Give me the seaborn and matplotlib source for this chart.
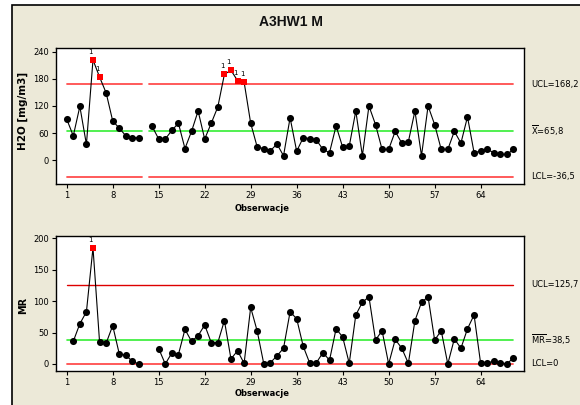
import numpy as np
import pandas as pd
import matplotlib
matplotlib.use("Agg")
import matplotlib.pyplot as plt
import seaborn as sns
from matplotlib.patches import Rectangle

# ---------------- data ----------------
obs = list(range(1, 70))
h2o = [91, 54, 119, 35, 222, 184, 149, 87, 71, 54, 50, 50, np.nan,
       75, 47, 47, 66, 82, 26, 64, 109,
       47, 82, 118, 190, 199, 176, 173, 82,
       29, 26, 21, 36, 10, 94, 20, 50, 48, 45, 24, 17, 76,
       29, 31, 109, 10, 120, 79, 24, 24, 64, 38, 41, 109, 10, 120, 79,
       24, 24, 64, 38, 96, 17, 20, 24, 17, 13, 13, 24]
mr = [np.nan, 36, 64, 83, 185, 35, 33, 61, 16, 14, 4, 0, np.nan, np.nan,
      24.5, 0, 17.5, 15, 55, 36, 45, 62, 34, 34, 69, 8, 21, 1, 90, 52,
      0, 2, 13, 25, 83, 72, 28, 1, 2, 18, 6, 56, 43, 1, 78, 98, 107, 38,
      53, 0, 39, 25, 1, 69, 98, 107, 38, 53, 0, 40, 25, 56, 78, 1, 2, 4,
      2, 0, 10]

x_ticks = [1, 8, 15, 22, 29, 36, 43, 50, 57, 64]
h2o_yticks = [0, 60, 120, 180, 240]
mr_yticks = [0, 50, 100, 150, 200]

h2o_ucl, h2o_mean, h2o_lcl = 168.2, 65.8, -36.5
mr_ucl, mr_mean, mr_lcl = 125.7, 38.5, 0.0

h2o_ucl_label = "UCL=168,2"
h2o_mean_label = r"$\overline{\mathrm{X}}$=65,8"
h2o_lcl_label = "LCL=-36,5"
mr_ucl_label = "UCL=125,7"
mr_mean_label = r"$\overline{\mathrm{MR}}$=38,5"
mr_lcl_label = "LCL=0"

title = "A3HW1 M"
h2o_ylabel = "H2O [mg/m3]"
mr_ylabel = "MR"
xlabel = "Obserwacje"

# ---------------- style ----------------
sns.set_style("ticks")
plt.rcParams["font.family"] = ["DejaVu Sans"]
plt.rcParams["mathtext.fontset"] = "dejavusans"
plt.rcParams["axes.linewidth"] = 1.0
plt.rcParams["text.color"] = "black"
plt.rcParams["axes.labelcolor"] = "black"
plt.rcParams["xtick.color"] = "black"
plt.rcParams["ytick.color"] = "black"

W, H = 580, 405
fig = plt.figure(figsize=(W / 100, H / 100), dpi=100)
fig.patch.set_facecolor("white")

# beige panel with black border
panel = Rectangle((12 / W, -0.05), 1.1, 1 - 5 / H + 0.05, transform=fig.transFigure,
                  facecolor="#ece9d8", edgecolor="black", linewidth=1.2, zorder=-10)
fig.patches.append(panel)

fig.text(291 / W, 1 - 22 / H, title, ha="center", va="center", color="#111111",
         fontsize=10, fontweight="bold", family=["Liberation Sans", "DejaVu Sans"])

ax1 = fig.add_axes([56 / W, 1 - 184 / H, (524 - 56) / W, (184 - 48.3) / H])
ax2 = fig.add_axes([56 / W, 1 - 370.7 / H, (524 - 56) / W, (370.7 - 235.7) / H])

RED_L = "#ff4d4d"
RED_D = "#dd0000"
GREEN = "#33ee33"


def draw_chart(ax, values, ucl, lcl):
    df = pd.DataFrame({"obs": obs, "val": values})
    df["seg"] = df["val"].isna().cumsum()
    d = df.dropna()
    sns.lineplot(data=d, x="obs", y="val", units="seg", estimator=None,
                 color="black", linewidth=0.8, ax=ax, zorder=3)
    out = (d["val"] > ucl) | (d["val"] < lcl)
    sns.scatterplot(data=d[~out], x="obs", y="val", color="black", s=26,
                    marker="o", edgecolor="black", linewidth=0, ax=ax, zorder=4)
    sns.scatterplot(data=d[out], x="obs", y="val", color="#ff0000", s=24,
                    marker="s", edgecolor="#ff0000", linewidth=0, ax=ax, zorder=5)
    for _, r in d[out].iterrows():
        ax.annotate("1", (r["obs"], r["val"]), xytext=(-1.5, 3.5),
                    textcoords="offset points", ha="center", va="bottom",
                    fontsize=5)
    ax.set_xlabel("")
    ax.set_ylabel("")


draw_chart(ax1, h2o, h2o_ucl, h2o_lcl)
draw_chart(ax2, mr, mr_ucl, mr_lcl)

# control lines, top chart broken at missing observation 13
for (a, b) in [(1, 12.5), (13.5, 69)]:
    ax1.plot([a, b], [h2o_ucl, h2o_ucl], color=RED_L, lw=1.3, zorder=2)
    ax1.plot([a, b], [h2o_mean, h2o_mean], color=GREEN, lw=1.2, zorder=2)
    ax1.plot([a, b], [h2o_lcl, h2o_lcl], color=RED_L, lw=1.3, zorder=2)
ax2.plot([1, 69], [mr_ucl, mr_ucl], color=RED_D, lw=1.0, zorder=2)
ax2.plot([1, 69], [mr_mean, mr_mean], color=GREEN, lw=1.2, zorder=2)
ax2.plot([1, 69], [mr_lcl, mr_lcl], color=RED_L, lw=1.3, zorder=2)

ax1.set_ylim(-52.4, 247.5)
ax2.set_ylim(-10.7, 204.1)
for ax, yt in [(ax1, h2o_yticks), (ax2, mr_yticks)]:
    ax.set_xlim(-0.63, 70.6)
    ax.set_xticks(x_ticks)
    ax.set_yticks(yt)
    ax.tick_params(axis="both", labelsize=6, length=3, width=0.8, pad=2,
                   colors="black")
    ax.set_facecolor("white")
    for s in ax.spines.values():
        s.set_visible(True)
        s.set_color("black")
        s.set_linewidth(1.0)

# right-side labels
def rlabel(ax, y, txt):
    ax.annotate(txt, xy=(1, y), xycoords=("axes fraction", "data"),
                xytext=(5, 0), textcoords="offset points",
                ha="left", va="center", fontsize=6, annotation_clip=False)

rlabel(ax1, h2o_ucl, h2o_ucl_label)
rlabel(ax1, h2o_mean, h2o_mean_label)
rlabel(ax1, h2o_lcl, h2o_lcl_label)
rlabel(ax2, mr_ucl, mr_ucl_label)
rlabel(ax2, mr_mean, mr_mean_label)
rlabel(ax2, mr_lcl, mr_lcl_label)

# axis labels
fig.text(23 / W, 1 - 111 / H, h2o_ylabel, rotation=90, ha="center", va="center",
         fontsize=7.5, fontweight="bold")
fig.text(23 / W, 1 - 305 / H, mr_ylabel, rotation=90, ha="center", va="center",
         fontsize=7, fontweight="bold")
fig.text(262 / W, 1 - 208 / H, xlabel, ha="center", va="center",
         fontsize=6, fontweight="bold")
fig.text(262 / W, 1 - 394 / H, xlabel, ha="center", va="center",
         fontsize=6, fontweight="bold")

fig.savefig("out.png", dpi=100, facecolor=fig.get_facecolor())
